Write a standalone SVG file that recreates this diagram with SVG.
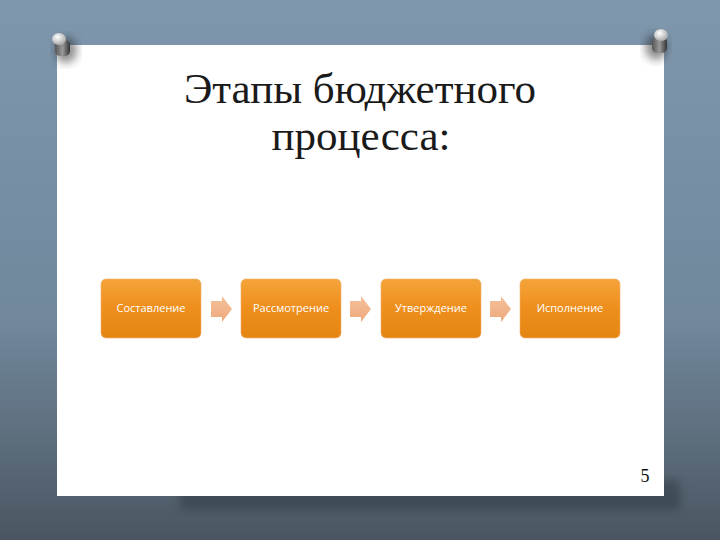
<svg xmlns="http://www.w3.org/2000/svg" width="720" height="540" viewBox="0 0 720 540">
<defs>
<linearGradient id="bg" x1="0" y1="0" x2="0" y2="1">
<stop offset="0" stop-color="#7f97ad"/>
<stop offset="0.6" stop-color="#70879c"/>
<stop offset="0.85" stop-color="#5a6977"/>
<stop offset="1" stop-color="#4a5561"/>
</linearGradient>
<linearGradient id="box" x1="0" y1="0" x2="0" y2="1">
<stop offset="0" stop-color="#f5a43a"/>
<stop offset="0.5" stop-color="#ee8e1c"/>
<stop offset="1" stop-color="#e58512"/>
</linearGradient>
<linearGradient id="arr" x1="0" y1="0" x2="0" y2="1">
<stop offset="0" stop-color="#f6c29a"/>
<stop offset="1" stop-color="#eea87c"/>
</linearGradient>
<radialGradient id="pinHead" cx="0.4" cy="0.35" r="0.6">
<stop offset="0" stop-color="#ffffff"/>
<stop offset="1" stop-color="#b0b0b0"/>
</radialGradient>
<linearGradient id="pinBody" x1="0" y1="0" x2="1" y2="0">
<stop offset="0" stop-color="#555"/>
<stop offset="0.5" stop-color="#999"/>
<stop offset="1" stop-color="#333"/>
</linearGradient>
<filter id="blur" x="-20%" y="-20%" width="140%" height="140%"><feGaussianBlur stdDeviation="4"/></filter>
</defs>
<style>
.lbl{font-family:"Open Sans","DejaVu Sans",sans-serif;font-size:11px;fill:#fff;text-anchor:middle}
.title{font-family:"Liberation Serif","Times New Roman",serif;font-size:43px;fill:#1a1a1a;text-anchor:middle}
.step{fill:url(#box);stroke:#f0b070;stroke-width:0.6}
.arrow{fill:url(#arr)}
</style>
<rect width="720" height="540" fill="url(#bg)"/>
<rect x="180" y="480" width="500" height="30" fill="#2f3944" opacity="0.5" filter="url(#blur)"/>
<rect x="57" y="45" width="607" height="451" fill="#ffffff"/>
<g id="pin-left">
<ellipse cx="66" cy="50" rx="11" ry="13" fill="#222" opacity="0.5" filter="url(#blur)"/>
<rect x="55" y="40" width="15" height="16" rx="5" fill="url(#pinBody)"/>
<ellipse cx="59" cy="39" rx="7" ry="6" fill="url(#pinHead)"/>
</g>
<g id="pin-right">
<ellipse cx="656" cy="47" rx="11" ry="13" fill="#222" opacity="0.5" filter="url(#blur)"/>
<rect x="652" y="37" width="15" height="16" rx="5" fill="url(#pinBody)"/>
<ellipse cx="661" cy="35" rx="7" ry="6" fill="url(#pinHead)"/>
</g>
<g id="title">
<text class="title" x="360" y="103">Этапы бюджетного</text>
<text class="title" x="361" y="150">процесса:</text>
</g>
<g id="connectors">
<polygon class="arrow" points="211,301 222,301 222,296 232,309 222,322 222,317 211,317"/>
<polygon class="arrow" points="350,301 361,301 361,296 371,309 361,322 361,317 350,317"/>
<polygon class="arrow" points="490,301 501,301 501,296 511,309 501,322 501,317 490,317"/>
</g>
<g id="n1"><rect class="step" x="101" y="279" width="100" height="59" rx="5"/><text class="lbl" x="151" y="312">Составление</text></g>
<g id="n2"><rect class="step" x="241" y="279" width="100" height="59" rx="5"/><text class="lbl" x="291" y="312">Рассмотрение</text></g>
<g id="n3"><rect class="step" x="381" y="279" width="100" height="59" rx="5"/><text class="lbl" x="431" y="312">Утверждение</text></g>
<g id="n4"><rect class="step" x="520" y="279" width="100" height="59" rx="5"/><text class="lbl" x="570" y="312">Исполнение</text></g>
<text x="645" y="482" font-family="Liberation Serif, serif" font-size="18" fill="#111" text-anchor="middle">5</text>
</svg>
